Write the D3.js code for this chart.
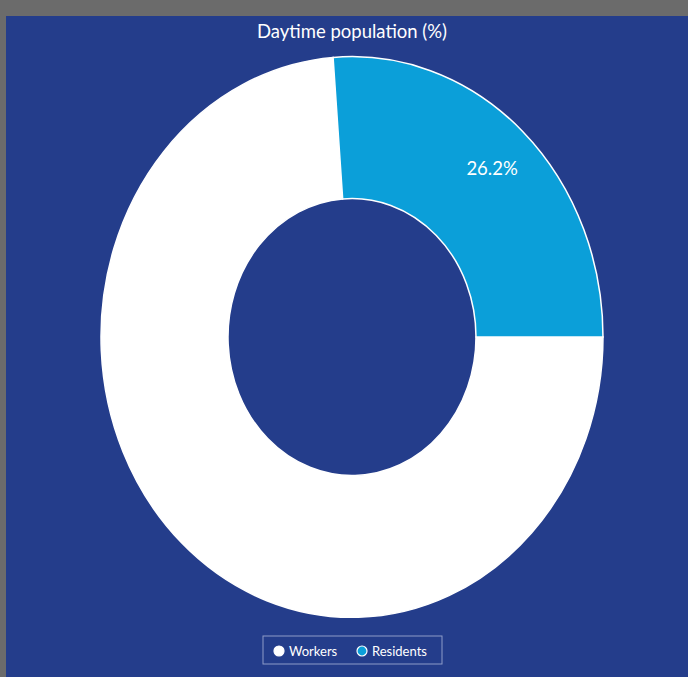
<!DOCTYPE html>
<html>
<head>
<meta charset="utf-8">
<script src="https://cdn.jsdelivr.net/npm/d3@7"></script>
<style>
  html, body { margin: 0; padding: 0; background: #6b6b6b; }
  svg { display: block; }
</style>
</head>
<body>
<svg id="chart"></svg>
<script>
// data
var categories = ["Workers", "Residents"]
var values = [73.8, 26.2]
var colors = ["#ffffff", "#0b9fd9"]

let width = 688
let height = 677
let cx = 352, cy = 337
let rOuter = 251, rInner = 124
let sy = 1.117  // picture is stretched vertically

const svg = d3.select("#chart")
    .attr("width", width)
    .attr("height", height)
    .attr("font-family", "Lato, 'Open Sans', sans-serif");

// panel
svg.append("rect")
    .attr("x", 6).attr("y", 16)
    .attr("width", width - 6).attr("height", height - 16)
    .attr("fill", "#243d8b");

svg.append("text")
    .attr("x", cx).attr("y", 38)
    .attr("text-anchor", "middle")
    .attr("fill", "#ffffff")
    .attr("font-size", 18.5)
    .text("Daytime population (%)");

let data = categories.map((c, i) => ({name: c, value: values[i], color: colors[i]}))

let pie = d3.pie()
    .sort(null)
    .value(d => d.value)
    .startAngle(Math.PI / 2)
    .endAngle(Math.PI / 2 + 2 * Math.PI)

let arcs = pie(data)
let arc = d3.arc().innerRadius(rInner).outerRadius(rOuter)
let labelArc = d3.arc().innerRadius(206).outerRadius(206)

const g = svg.append("g")
    .attr("transform", `translate(${cx},${cy}) scale(1,${sy})`);

g.selectAll("path")
  .data(arcs)
  .join("path")
    .attr("d", arc)
    .attr("fill", d => d.data.color)
    .attr("stroke", "#ffffff")
    .attr("stroke-width", 1.5)
    .attr("vector-effect", "non-scaling-stroke");

svg.selectAll("text.lbl")
  .data(arcs.filter(d => d.data.name == "Residents"))
  .join("text")
    .attr("class", "lbl")
    .attr("x", d => cx + labelArc.centroid(d)[0])
    .attr("y", d => cy + labelArc.centroid(d)[1] * sy)
    .attr("dy", "0.35em")
    .attr("text-anchor", "middle")
    .attr("fill", "#ffffff")
    .attr("font-size", 18.5)
    .text(d => d.data.value.toFixed(1) + "%");

// legend
const lg = svg.append("g").attr("transform", "translate(263,636)");
lg.append("rect")
    .attr("width", 179).attr("height", 28)
    .attr("fill", "none")
    .attr("stroke", "#8d9cc8")
    .attr("stroke-width", 1);

let lx = [16, 99]
const item = lg.selectAll("g.item")
  .data(data)
  .join("g")
    .attr("class", "item")
    .attr("transform", (d, i) => `translate(${lx[i]},15)`);

item.append("circle")
    .attr("r", 5)
    .attr("fill", d => d.color)
    .attr("stroke", "#ffffff")
    .attr("stroke-width", 1.2);

item.append("text")
    .attr("x", 10)
    .attr("dy", "0.35em")
    .attr("fill", "#ffffff")
    .attr("font-size", 13)
    .text(d => d.name);
</script>
</body>
</html>
